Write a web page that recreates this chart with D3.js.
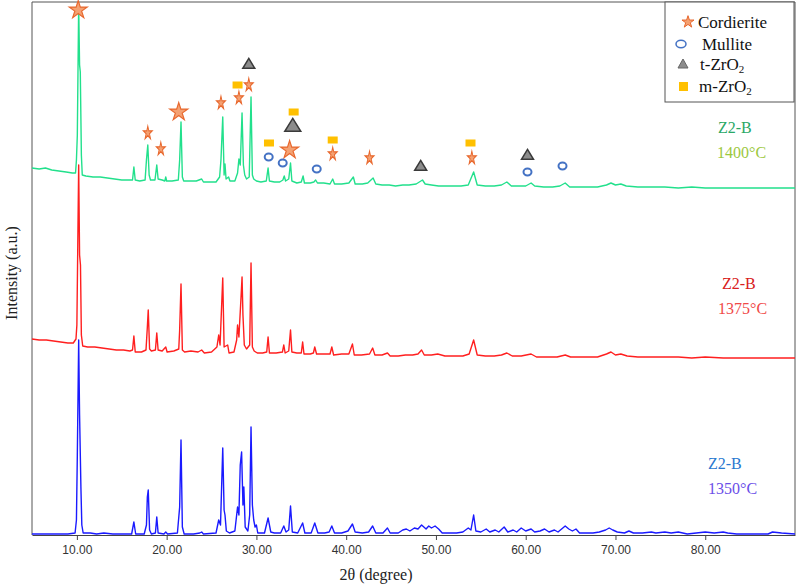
<!DOCTYPE html>
<html>
<head>
<meta charset="utf-8">
<script src="https://d3js.org/d3.v7.min.js"></script>
<style>
  body { margin: 0; background: #fff; }
  svg { display: block; }
</style>
</head>
<body>
<div id="chart"></div>
<script>
// XRD patterns of Z2-B, stacked: [2theta, intensity above the pattern's own offset]
const temps = ["1350°C", "1375°C", "1400°C"];
const sampleNames = ["Z2-B", "Z2-B", "Z2-B"];
const offsets = [0, 170, 340];
const xTicks = [10, 20, 30, 40, 50, 60, 70, 80];

const pattern1350 = [[5.0,1],[7.0,1],[9.0,1],[9.8,2],[9.95,15],[10.05,80],[10.2,195],[10.3,120],[10.45,47],[10.55,10],[10.7,2],[11.5,2],[12.2,1],[13.0,2],[14.0,1],[15.0,1],[16.1,1],[16.35,13],[16.55,1],[17.5,1],[17.75,10],[17.85,38],[17.95,45],[18.1,5],[18.3,1],[18.75,2],[18.9,18],[19.05,2],[19.7,1],[19.9,3],[20.1,1],[21.2,2],[21.45,28],[21.6,95],[21.75,8],[21.95,1],[23.0,1],[23.7,2],[23.9,3],[24.1,1],[25.5,2],[25.8,15],[26.0,10],[26.25,87],[26.4,25],[26.5,20],[26.65,4],[27.0,2],[27.6,4],[27.9,28],[28.05,20],[28.2,70],[28.35,83],[28.5,30],[28.6,48],[28.75,8],[29.05,4],[29.25,20],[29.4,108],[29.55,30],[29.7,15],[29.85,8],[30.0,10],[30.15,2],[30.9,2],[31.3,17],[31.6,3],[32.0,2],[32.7,2],[33.05,9],[33.3,3],[33.6,5],[33.8,29],[34.0,3],[34.6,2],[35.15,12],[35.4,2],[36.1,2],[36.5,12],[36.85,2],[37.6,2],[38.1,3],[38.4,9],[38.7,2],[39.5,2],[40.2,4],[40.7,11],[41.0,3],[41.8,2],[42.5,3],[42.95,9],[43.3,2],[44.1,2],[44.6,7],[44.9,2],[45.8,2],[46.3,5],[46.7,6],[47.1,4],[47.6,7],[48.0,6],[48.4,10],[48.9,6],[49.2,9],[49.5,7],[49.9,9],[50.3,6],[50.7,2],[51.5,2],[52.3,2],[53.0,3],[53.6,7],[53.9,5],[54.2,20],[54.45,4],[55.0,3],[55.6,6],[56.0,3],[56.6,5],[57.0,3],[57.6,8],[58.0,3],[58.6,5],[59.0,3],[59.5,7],[60.0,4],[60.6,6],[61.0,3],[61.6,4],[62.1,6],[62.6,3],[63.2,5],[63.6,3],[64.0,6],[64.4,9],[64.8,6],[65.2,4],[65.6,6],[66.0,2],[66.8,2],[67.5,2],[68.2,3],[68.9,5],[69.3,7],[69.7,5],[70.2,3],[71.0,2],[71.5,4],[72.0,2],[73.0,2],[74.0,3],[74.5,2],[75.5,3],[76.2,2],[77.0,3],[78.0,1],[80.0,3],[81.0,2],[82.0,3],[82.5,2],[83.5,1],[85.0,1],[87.0,1],[87.5,3],[88.5,2],[90.0,1]];

const pattern1375 = [[5.0,26],[5.8,25],[6.6,25],[7.4,24],[8.2,23],[9.0,22],[9.6,22],[9.9,26],[10.0,40],[10.1,120],[10.2,200],[10.3,110],[10.4,100],[10.5,30],[10.65,19],[11.2,18],[12.0,18],[12.8,17],[13.6,16],[14.4,15],[15.2,15],[15.9,14],[16.2,15],[16.35,29],[16.5,13],[17.2,13],[17.7,15],[17.85,38],[17.95,55],[18.1,16],[18.3,14],[18.75,15],[18.9,32],[19.05,15],[19.5,14],[19.9,18],[20.05,13],[20.8,14],[21.35,16],[21.45,35],[21.6,81],[21.75,15],[22.0,13],[22.7,14],[23.5,13],[23.9,15],[24.2,12],[25.0,13],[25.6,18],[25.8,30],[25.95,20],[26.25,87],[26.4,18],[26.8,20],[26.95,12],[27.5,13],[27.8,25],[27.9,40],[28.05,28],[28.3,70],[28.4,88],[28.5,50],[28.65,20],[28.9,16],[29.25,20],[29.4,102],[29.55,18],[29.75,14],[30.1,12],[30.7,12],[31.15,13],[31.3,28],[31.45,12],[32.2,12],[32.9,13],[33.05,20],[33.2,12],[33.6,14],[33.8,35],[33.95,13],[34.5,12],[35.0,12],[35.15,23],[35.3,11],[36.0,11],[36.35,12],[36.5,18],[36.7,11],[37.5,11],[38.2,11],[38.4,18],[38.6,10],[39.5,11],[40.3,11],[40.7,21],[40.9,10],[41.7,10],[42.6,11],[42.95,17],[43.2,10],[44.0,10],[44.6,12],[44.9,9],[45.8,9],[46.6,10],[47.4,10],[48.0,11],[48.4,15],[48.7,10],[49.5,10],[50.2,11],[51.0,9],[52.0,9],[53.0,9],[53.7,11],[54.2,25],[54.6,10],[55.5,9],[56.5,9],[57.3,10],[57.9,12],[58.5,9],[59.5,9],[60.6,11],[61.2,8],[62.5,8],[63.5,8],[64.4,10],[65.0,8],[66.5,8],[68.0,8],[69.0,11],[69.5,13],[70.0,10],[70.6,11],[71.3,9],[72.5,8],[74.0,8],[75.5,8],[77.0,8],[78.5,7],[80.0,8],[82.0,7],[84.0,7],[86.0,7],[88.0,7],[90.0,7]];

const pattern1400 = [[5.0,27],[5.8,26],[6.5,27],[7.2,25],[8.0,24],[8.8,23],[9.5,22],[9.85,22],[9.95,35],[10.05,60],[10.2,190],[10.3,130],[10.38,123],[10.5,40],[10.6,20],[11.0,19],[11.8,18],[12.6,18],[13.4,17],[14.2,16],[15.0,15],[15.8,15],[16.2,15],[16.35,28],[16.5,15],[17.0,14],[17.6,15],[17.75,35],[17.9,50],[18.05,20],[18.2,15],[18.7,15],[18.9,30],[19.05,16],[19.5,15],[19.8,14],[19.9,18],[20.0,14],[20.6,14],[21.3,15],[21.45,35],[21.6,73],[21.75,18],[21.9,14],[22.6,14],[23.3,14],[23.9,16],[24.1,13],[24.8,13],[25.5,13],[25.9,18],[26.05,35],[26.25,78],[26.4,20],[26.5,31],[26.62,16],[26.9,18],[27.05,14],[27.6,14],[27.9,22],[28.05,36],[28.2,30],[28.4,82],[28.55,30],[28.7,20],[28.9,16],[29.2,18],[29.4,98],[29.55,20],[29.7,16],[30.0,14],[30.5,13],[31.1,14],[31.3,27],[31.45,14],[32.0,13],[32.6,13],[32.95,15],[33.1,19],[33.25,14],[33.6,16],[33.8,32],[33.95,14],[34.5,12],[35.0,13],[35.2,19],[35.35,12],[36.0,12],[36.4,13],[36.6,15],[36.8,12],[37.5,12],[38.2,11],[38.5,16],[38.7,11],[39.5,11],[40.3,12],[40.8,18],[41.0,11],[41.8,11],[42.4,12],[43.0,17],[43.3,11],[44.0,10],[44.8,10],[45.5,9],[46.3,10],[47.0,10],[47.8,11],[48.5,15],[48.8,11],[49.5,10],[50.3,9],[51.0,9],[52.0,9],[52.8,9],[53.6,10],[54.2,23],[54.6,10],[55.5,9],[56.5,9],[57.3,10],[57.9,13],[58.4,9],[59.2,9],[60.0,9],[60.6,12],[61.0,9],[62.0,8],[63.0,8],[63.8,9],[64.4,12],[64.9,8],[66.0,8],[67.0,8],[68.0,8],[69.0,10],[69.5,12],[70.0,10],[70.6,11],[71.2,9],[72.5,8],[74.0,8],[75.5,8],[77.0,7],[78.5,8],[80.0,7],[82.0,7],[84.0,7],[86.0,7],[88.0,7],[90.0,7]];

// phase marks above the 1400°C pattern: [2theta, absolute intensity]
const cordieriteMajor = [[10.15,525],[21.35,423],[33.7,385]];
const cordieriteMinor = [[17.9,402],[19.35,386],[26.05,432],[28.05,437],[29.15,450],[38.5,381],[42.6,377],[54.0,377]];
const mulliteMarks = [[31.37,378],[32.93,372],[36.72,366],[60.2,363],[64.1,369]];
const tZrO2Marks = [[29.15,470],[34.05,408],[48.3,368],[60.2,379]];
const mZrO2Marks = [[27.9,450],[34.15,423],[31.4,392],[38.5,395],[53.85,392]];

const W = 797, H = 584;
const mLeft = 32, mRight = 795, mTop = 2, mBottom = 535;

const svg = d3.select("#chart").append("svg")
  .attr("width", W)
  .attr("height", H);

const x = d3.scaleLinear().domain([5, 90]).range([mLeft, mRight]);
const y = d3.scaleLinear().domain([0, 533]).range([mBottom, mTop]);

const serif = "'Liberation Serif', 'Times New Roman', serif";

// frame
svg.append("path")
  .attr("d", `M${mLeft},${mBottom}V${mTop}H${mRight}V${mBottom}`)
  .attr("fill", "none")
  .attr("stroke", "#555")
  .attr("stroke-width", 1);

// x axis
const xAxis = svg.append("g")
  .attr("transform", `translate(0,${mBottom})`)
  .call(d3.axisBottom(x).tickValues(xTicks).tickFormat(d3.format(".2f")).tickSize(5).tickSizeOuter(0));
xAxis.select(".domain").attr("stroke", "#444");
xAxis.selectAll(".tick line").attr("stroke", "#444");
xAxis.selectAll(".tick text")
  .attr("font-family", "'Liberation Sans', Arial, sans-serif")
  .attr("font-size", 12)
  .attr("fill", "#333")
  .attr("dy", "0.9em");

svg.append("text")
  .attr("x", 376).attr("y", 580)
  .attr("text-anchor", "middle")
  .attr("font-family", serif)
  .attr("font-size", 16)
  .attr("fill", "#222")
  .text("2θ (degree)");

svg.append("text")
  .attr("transform", "translate(17,273) rotate(-90)")
  .attr("text-anchor", "middle")
  .attr("font-family", serif)
  .attr("font-size", 16)
  .attr("fill", "#222")
  .text("Intensity (a.u.)");

// patterns
const patterns = [pattern1350, pattern1375, pattern1400];
const lineColors = ["#1a1aff", "#ff1f1f", "#22e08c"];

patterns.forEach((p, i) => {
  const line = d3.line()
    .x(d => x(d[0]))
    .y(d => y(offsets[i] + d[1]));
  svg.append("path")
    .datum(p)
    .attr("fill", "none")
    .attr("stroke", lineColors[i])
    .attr("stroke-width", 1.4)
    .attr("stroke-linejoin", "round")
    .attr("d", line);
});

// sample labels
const labelPos = [[708, 469, 708, 494], [722, 289, 718, 314], [718, 133, 717, 158]];
const nameColors = ["#2a78d0", "#d82020", "#2aa866"];
const tempColors = ["#6a4ee8", "#f04848", "#9cc83e"];
labelPos.forEach((p, i) => {
  svg.append("text")
    .attr("x", p[0]).attr("y", p[1])
    .attr("font-family", serif).attr("font-size", 16)
    .attr("fill", nameColors[i])
    .text(sampleNames[i]);
  svg.append("text")
    .attr("x", p[2]).attr("y", p[3])
    .attr("font-family", serif).attr("font-size", 16)
    .attr("fill", tempColors[i])
    .text(temps[i]);
});

// marker helpers
const starFill = "#f4a172", starStroke = "#e8682e";
const triPath = (w, h) => `M0,${-h * 2 / 3}L${w / 2},${h / 3}L${-w / 2},${h / 3}Z`;

const marks = svg.append("g");

marks.selectAll(".star-major")
  .data(cordieriteMajor).enter().append("path")
  .attr("transform", d => `translate(${x(d[0])},${y(d[1])})`)
  .attr("d", d3.symbol(d3.symbolStar, 100)())
  .attr("fill", starFill).attr("stroke", starStroke).attr("stroke-width", 1.2);

marks.selectAll(".star-minor")
  .data(cordieriteMinor).enter().append("path")
  .attr("transform", d => `translate(${x(d[0])},${y(d[1])}) scale(0.9,1.35)`)
  .attr("d", d3.symbol(d3.symbolStar, 30)())
  .attr("fill", starFill).attr("stroke", starStroke).attr("stroke-width", 1);

marks.selectAll(".mullite")
  .data(mulliteMarks).enter().append("ellipse")
  .attr("cx", d => x(d[0])).attr("cy", d => y(d[1]))
  .attr("rx", 4).attr("ry", 3.4)
  .attr("fill", "#fff").attr("stroke", "#4472c4").attr("stroke-width", 2);

marks.selectAll(".tzro2")
  .data(tZrO2Marks).enter().append("path")
  .attr("transform", d => `translate(${x(d[0])},${y(d[1])})`)
  .attr("d", (d, i) => i === 1 ? triPath(16, 13) : triPath(12, 10))
  .attr("fill", "#8c8c8c").attr("stroke", "#3a3a3a").attr("stroke-width", 1.5);

marks.selectAll(".mzro2")
  .data(mZrO2Marks).enter().append("rect")
  .attr("x", d => x(d[0]) - 5).attr("y", d => y(d[1]) - 3.5)
  .attr("width", 10).attr("height", 7)
  .attr("fill", "#ffc000");

// legend
const legend = svg.append("g");
legend.append("rect")
  .attr("x", 665).attr("y", 2).attr("width", 129).attr("height", 100)
  .attr("fill", "#fff").attr("stroke", "#555").attr("stroke-width", 1);

legend.append("path")
  .attr("transform", "translate(688,22)")
  .attr("d", d3.symbol(d3.symbolStar, 45)())
  .attr("fill", starFill).attr("stroke", starStroke).attr("stroke-width", 1);
legend.append("ellipse")
  .attr("cx", 681).attr("cy", 44).attr("rx", 5).attr("ry", 3.8)
  .attr("fill", "#fff").attr("stroke", "#4472c4").attr("stroke-width", 1.5);
legend.append("path")
  .attr("transform", "translate(683,65)")
  .attr("d", triPath(10, 9))
  .attr("fill", "#8c8c8c").attr("stroke", "#666").attr("stroke-width", 1);
legend.append("rect")
  .attr("x", 679).attr("y", 82).attr("width", 9).attr("height", 9)
  .attr("fill", "#ffc000");

const legendText = [
  { x: 698, y: 28, main: "Cordierite", sub: "" },
  { x: 702, y: 50, main: "Mullite", sub: "" },
  { x: 700, y: 70, main: "t-ZrO", sub: "2" },
  { x: 699, y: 92, main: "m-ZrO", sub: "2" }
];
legendText.forEach(t => {
  const txt = legend.append("text")
    .attr("x", t.x).attr("y", t.y)
    .attr("font-family", serif).attr("font-size", 17)
    .attr("fill", "#111")
    .text(t.main);
  if (t.sub) {
    txt.append("tspan").attr("font-size", 11).attr("dy", 3).text(t.sub);
  }
});
</script>
</body>
</html>
